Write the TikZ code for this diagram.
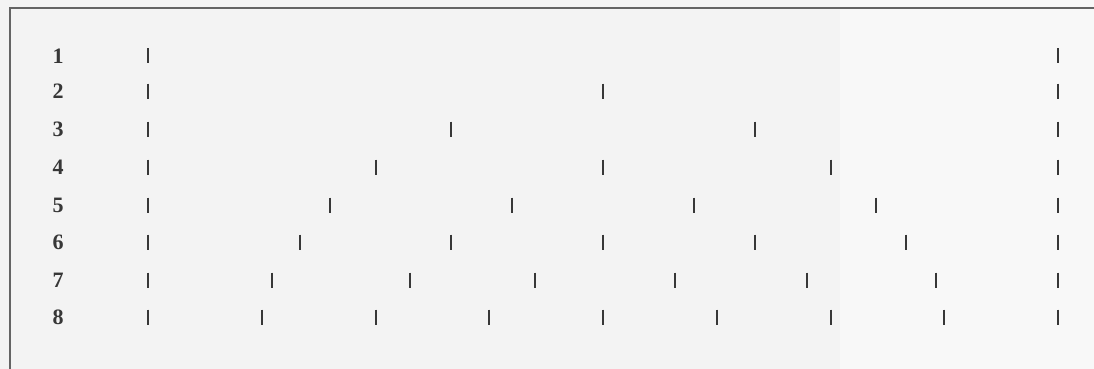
\documentclass[tikz,border=0pt]{standalone}
\usepackage{fontspec}
\setmainfont{Liberation Serif}
\definecolor{paper}{RGB}{243,243,243}
\definecolor{paperlight}{RGB}{248,248,248}
\definecolor{ink}{RGB}{55,55,55}
\definecolor{framec}{RGB}{100,100,100}
\begin{document}
\begin{tikzpicture}[x=1pt,y=-1pt,
  rowlabel/.style={font=\fontsize{22}{22}\selectfont\bfseries, text=ink, inner sep=0pt, anchor=center},
  tick/.style={draw=ink, line width=2pt}]
\useasboundingbox (0,0) rectangle (1094,369);
\clip (0,0) rectangle (1094,369);
\fill[paper] (0,0) rectangle (840,369);
\fill[paperlight] (840,0) rectangle (1094,369);
\draw[framec, line width=1.3pt] (10,8) rectangle (1110,390);
% row y positions
\foreach \n/\y in {1/56,2/91,3/129,4/167,5/205,6/242,7/280,8/317}{
  \node[rowlabel] (lab\n) at (58,\y) {\n};
}
% uniform rows
\foreach \n/\y in {1/56,2/91,3/129,4/167,5/205,6/242,8/317}{
  \pgfmathtruncatemacro{\m}{\n}
  \foreach \k in {0,...,\m}{
    \pgfmathsetmacro{\xx}{round(147+\k*910/\n)+0.5}
    \draw[tick] (\xx,\y-7.5) -- (\xx,\y+7.5);
  }
}
% row 7 (as drawn)
\foreach \xx in {147.5,271.5,409.5,534.5,674.5,806.5,935.5,1057.5}{
  \draw[tick] (\xx,280-7.5) -- (\xx,280+7.5);
}
\end{tikzpicture}
\end{document}
